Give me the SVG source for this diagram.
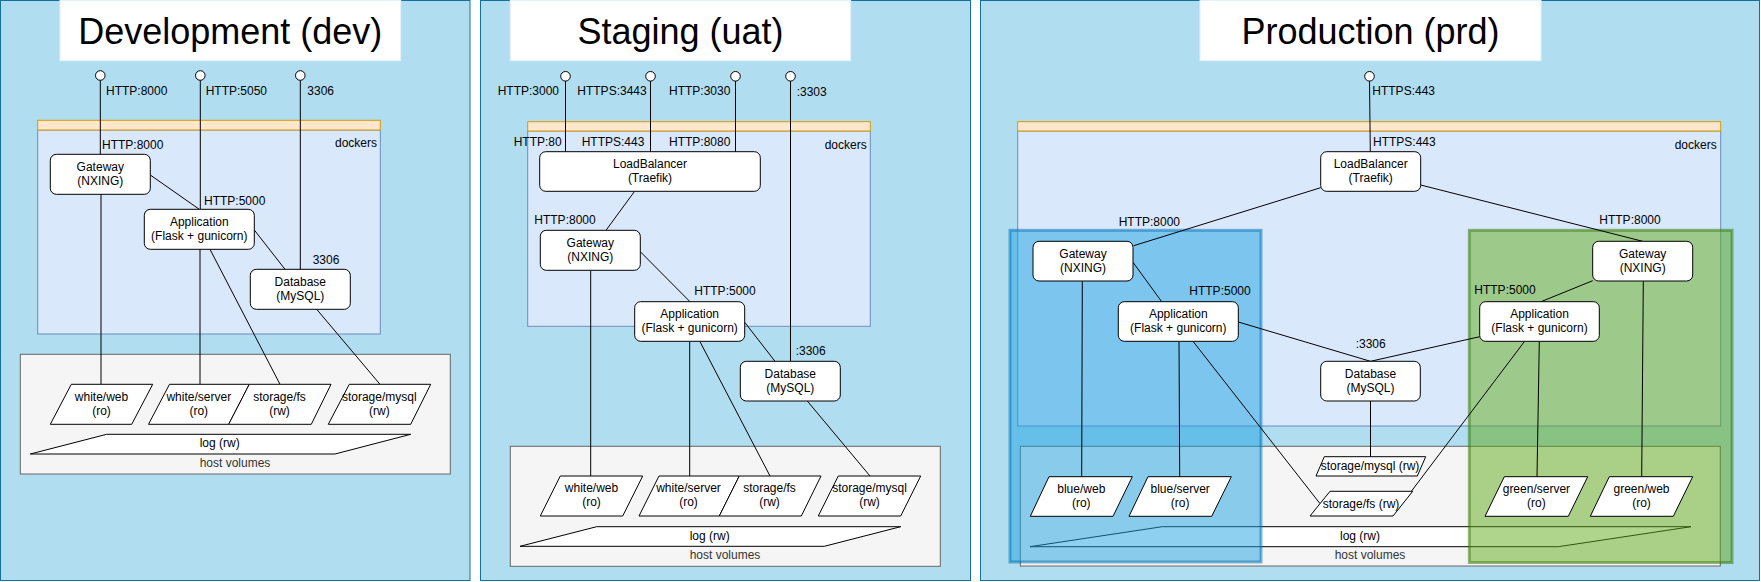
<svg xmlns="http://www.w3.org/2000/svg" width="1761" height="582" viewBox="0 0 1761 582">
<style>
text{font-family:"Liberation Sans",Arial,Helvetica,sans-serif;font-size:12px;fill:#000}
.panel{fill:#b1ddf0;stroke:#10739e;stroke-width:1}
.title{fill:#ffffff;stroke:#e3f1f8;stroke-width:1}
.ttl{font-size:36px;text-anchor:middle}
.dhead{fill:#ffe6cc;stroke:#d79b00;stroke-width:1}
.dbody{fill:#dae8fc;stroke:#6c8ebf;stroke-width:1}
.host{fill:#f5f5f5;stroke:#666666;stroke-width:1}
.hostt{fill:#333333;text-anchor:middle}
.node{fill:#ffffff;stroke:#000000;stroke-width:1}
.c{text-anchor:middle}
.r{text-anchor:end}
.pin{fill:#ffffff;stroke:#000000;stroke-width:1}
.blue{fill:#1ba1e2;fill-opacity:0.5;stroke:#006eaf;stroke-opacity:0.5;stroke-width:3}
.green{fill:#60a917;fill-opacity:0.5;stroke:#2d7600;stroke-opacity:0.5;stroke-width:3}
#connectors line{stroke:#000000;stroke-width:1;fill:none}
</style>

<!-- ===================== DEVELOPMENT ===================== -->
<g id="panel-dev">
<rect class="panel" x="0.5" y="0.5" width="469.5" height="580"/>
<rect class="title" x="60" y="0.5" width="340.7" height="60.2"/>
<text class="ttl" x="230.3" y="44">Development (dev)</text>
</g>
<g id="dev-dockers">
<rect class="dbody" x="37.7" y="130" width="342.6" height="204"/>
<rect class="dhead" x="37.7" y="120.3" width="342.6" height="9.7"/>
<text class="r" x="377" y="147">dockers</text>
</g>
<g id="dev-host">
<rect class="host" x="20.3" y="354.3" width="430" height="119.7"/>
<text class="hostt" x="235" y="466.7">host volumes</text>
</g>
<g id="dev-log">
<polygon class="node" points="30.3,454 106.7,434.3 410.7,434.3 335,454"/>
<text class="c" x="219.7" y="447">log (rw)</text>
</g>

<!-- ===================== STAGING ===================== -->
<g id="panel-uat">
<rect class="panel" x="480.5" y="0.5" width="490" height="580"/>
<rect class="title" x="510.3" y="0.5" width="340.4" height="60.2"/>
<text class="ttl" x="680.5" y="44">Staging (uat)</text>
</g>
<g id="uat-dockers">
<rect class="dbody" x="527.7" y="131" width="342.6" height="195.3"/>
<rect class="dhead" x="527.7" y="121.7" width="342.6" height="9.3"/>
<text class="r" x="866.7" y="148.7">dockers</text>
</g>
<g id="uat-host">
<rect class="host" x="510.3" y="446.3" width="430" height="120"/>
<text class="hostt" x="725" y="559.3">host volumes</text>
</g>
<g id="uat-log">
<polygon class="node" points="520,546.3 596.7,526.7 900.7,526.7 824.3,546.3"/>
<text class="c" x="709.7" y="540">log (rw)</text>
</g>

<!-- ===================== PRODUCTION ===================== -->
<g id="panel-prd">
<rect class="panel" x="980.5" y="0.5" width="779" height="580"/>
<rect class="title" x="1200" y="0.5" width="341" height="60.2"/>
<text class="ttl" x="1370.5" y="44">Production (prd)</text>
</g>
<g id="prd-dockers">
<rect class="dbody" x="1017.7" y="131" width="703" height="295"/>
<rect class="dhead" x="1017.7" y="121.7" width="703" height="9.3"/>
<text class="r" x="1716.7" y="148.7">dockers</text>
</g>
<g id="prd-host">
<rect class="host" x="1020.3" y="446.3" width="700" height="119.7"/>
<text class="hostt" x="1370" y="559.3">host volumes</text>
</g>
<g id="prd-log">
<polygon class="node" points="1030,546.7 1162.3,526.7 1691,526.7 1558.3,546.7"/>
<text class="c" x="1360" y="540">log (rw)</text>
</g>
<g id="prd-blue">
<rect class="blue" x="1010" y="230.3" width="251" height="331.7"/>
</g>
<g id="prd-green">
<rect class="green" x="1469.3" y="230.3" width="262.7" height="332.2"/>
</g>

<!-- ===================== CONNECTORS ===================== -->
<g id="connectors">
<!-- dev -->
<line x1="100.3" y1="80.3" x2="100.3" y2="154.3"/>
<line x1="200.3" y1="80.3" x2="200.3" y2="209.3"/>
<line x1="300.3" y1="80.3" x2="300.3" y2="269.3"/>
<line x1="150.3" y1="175" x2="199.3" y2="209.3"/>
<line x1="254.3" y1="230" x2="285" y2="269.3"/>
<line x1="101" y1="194.3" x2="101" y2="384.3"/>
<line x1="200" y1="249.3" x2="200" y2="384.3"/>
<line x1="210" y1="249.3" x2="280" y2="384.3"/>
<line x1="316.7" y1="309.3" x2="380" y2="384.3"/>
<!-- uat -->
<line x1="565.5" y1="81" x2="565.5" y2="151.7"/>
<line x1="650.5" y1="81" x2="650.5" y2="151.7"/>
<line x1="735.5" y1="81" x2="735.5" y2="151.7"/>
<line x1="790.5" y1="81" x2="790.5" y2="361.3"/>
<line x1="634.3" y1="191.7" x2="606" y2="230.3"/>
<line x1="640.3" y1="251.7" x2="690" y2="301.7"/>
<line x1="744.7" y1="322.3" x2="775" y2="361.3"/>
<line x1="590.7" y1="270.3" x2="590.7" y2="476"/>
<line x1="689.7" y1="341.7" x2="689.7" y2="476"/>
<line x1="700" y1="341.7" x2="770" y2="476"/>
<line x1="807.3" y1="401" x2="870" y2="476"/>
<!-- prd -->
<line x1="1369.5" y1="81" x2="1370.3" y2="151.7"/>
<line x1="1320.7" y1="187.7" x2="1133.7" y2="245.7"/>
<line x1="1420.7" y1="185" x2="1642.7" y2="241.3"/>
<line x1="1133" y1="262.3" x2="1161.7" y2="301.7"/>
<line x1="1592.7" y1="280.7" x2="1541" y2="301.7"/>
<line x1="1238.3" y1="322" x2="1370.5" y2="361.3"/>
<line x1="1479.7" y1="336.7" x2="1370.5" y2="361.3"/>
<line x1="1082.3" y1="281.3" x2="1081.7" y2="476.7"/>
<line x1="1179" y1="341.7" x2="1179.7" y2="476.7"/>
<line x1="1193.3" y1="341.7" x2="1320" y2="503.6"/>
<line x1="1524.3" y1="341.7" x2="1401" y2="505"/>
<line x1="1539.3" y1="341.7" x2="1537" y2="476.7"/>
<line x1="1643.3" y1="281.3" x2="1641.7" y2="476.7"/>
<line x1="1370.5" y1="401" x2="1370.5" y2="456.7"/>
</g>

<!-- ===================== EDGE LABELS & PINS ===================== -->
<g id="dev-pins">
<circle class="pin" cx="100.3" cy="75.5" r="4.8"/>
<circle class="pin" cx="200.3" cy="75.5" r="4.8"/>
<circle class="pin" cx="300.3" cy="75.5" r="4.8"/>
<text x="106" y="95">HTTP:8000</text>
<text x="205.7" y="95">HTTP:5050</text>
<text x="307.3" y="95">3306</text>
<text x="102" y="149">HTTP:8000</text>
<text x="204" y="205">HTTP:5000</text>
<text x="312.7" y="264">3306</text>
</g>
<g id="uat-pins">
<circle class="pin" cx="565.5" cy="76.3" r="4.8"/>
<circle class="pin" cx="650.5" cy="76.3" r="4.8"/>
<circle class="pin" cx="735.5" cy="76.3" r="4.8"/>
<circle class="pin" cx="790.5" cy="76.3" r="4.8"/>
<text x="497.7" y="95">HTTP:3000</text>
<text x="577.3" y="95">HTTPS:3443</text>
<text x="669" y="95">HTTP:3030</text>
<text x="796.7" y="96">:3303</text>
<text x="513.7" y="146">HTTP:80</text>
<text x="581.7" y="146">HTTPS:443</text>
<text x="669" y="146">HTTP:8080</text>
<text x="534.3" y="224">HTTP:8000</text>
<text x="694.3" y="295">HTTP:5000</text>
<text x="795.7" y="355.3">:3306</text>
</g>
<g id="prd-pins">
<circle class="pin" cx="1369.5" cy="76.3" r="4.8"/>
<text x="1372.3" y="95">HTTPS:443</text>
<text x="1373" y="146">HTTPS:443</text>
<text x="1118.7" y="225.7">HTTP:8000</text>
<text x="1599.3" y="224.3">HTTP:8000</text>
<text x="1189.3" y="295">HTTP:5000</text>
<text x="1474.3" y="294.3">HTTP:5000</text>
<text x="1355.7" y="348.3">:3306</text>
</g>

<!-- ===================== NODES: DEV ===================== -->
<g id="dev-gateway">
<rect class="node" x="50.3" y="154.3" width="100" height="40" rx="6"/>
<text class="c" x="100.3" y="170.6">Gateway</text>
<text class="c" x="100.3" y="184.6">(NXING)</text>
</g>
<g id="dev-app">
<rect class="node" x="144.3" y="209.3" width="110" height="40" rx="6"/>
<text class="c" x="199.3" y="225.6">Application</text>
<text class="c" x="199.3" y="239.6">(Flask + gunicorn)</text>
</g>
<g id="dev-db">
<rect class="node" x="250.3" y="269.3" width="100" height="40" rx="6"/>
<text class="c" x="300.3" y="285.6">Database</text>
<text class="c" x="300.3" y="299.6">(MySQL)</text>
</g>
<g id="dev-white-web">
<polygon class="node" points="50.3,424.3 71.3,384.3 152.7,384.3 131.7,424.3"/>
<text class="c" x="101.5" y="400.6">white/web</text>
<text class="c" x="101.5" y="414.6">(ro)</text>
</g>
<g id="dev-white-server">
<polygon class="node" points="148.5,424.3 169.5,384.3 249.3,384.3 228.7,424.3"/>
<text class="c" x="198.8" y="400.6">white/server</text>
<text class="c" x="198.8" y="414.6">(ro)</text>
</g>
<g id="dev-storage-fs">
<polygon class="node" points="228.7,424.3 249.3,384.3 331,384.3 311.3,424.3"/>
<text class="c" x="279.5" y="400.6">storage/fs</text>
<text class="c" x="279.5" y="414.6">(rw)</text>
</g>
<g id="dev-storage-mysql">
<polygon class="node" points="328.3,424.3 349.3,384.3 430.7,384.3 410.7,424.3"/>
<text class="c" x="379.3" y="400.6">storage/mysql</text>
<text class="c" x="379.3" y="414.6">(rw)</text>
</g>

<!-- ===================== NODES: UAT ===================== -->
<g id="uat-lb">
<rect class="node" x="539.7" y="151.7" width="220.6" height="39.6" rx="6"/>
<text class="c" x="650" y="168">LoadBalancer</text>
<text class="c" x="650" y="182">(Traefik)</text>
</g>
<g id="uat-gateway">
<rect class="node" x="540.3" y="230.3" width="100" height="40" rx="6"/>
<text class="c" x="590.3" y="246.6">Gateway</text>
<text class="c" x="590.3" y="260.6">(NXING)</text>
</g>
<g id="uat-app">
<rect class="node" x="634.7" y="301.7" width="110" height="39.6" rx="6"/>
<text class="c" x="689.7" y="318">Application</text>
<text class="c" x="689.7" y="332">(Flask + gunicorn)</text>
</g>
<g id="uat-db">
<rect class="node" x="740.3" y="361.3" width="100" height="39.7" rx="6"/>
<text class="c" x="790.3" y="377.6">Database</text>
<text class="c" x="790.3" y="391.6">(MySQL)</text>
</g>
<g id="uat-white-web">
<polygon class="node" points="540.3,516 560.3,476 642.7,476 622.7,516"/>
<text class="c" x="591.5" y="492.3">white/web</text>
<text class="c" x="591.5" y="506.3">(ro)</text>
</g>
<g id="uat-white-server">
<polygon class="node" points="639,516 659,476 739.3,476 719.3,516"/>
<text class="c" x="688.5" y="492.3">white/server</text>
<text class="c" x="688.5" y="506.3">(ro)</text>
</g>
<g id="uat-storage-fs">
<polygon class="node" points="719.3,516 739.3,476 821,476 801.3,516"/>
<text class="c" x="769.5" y="492.3">storage/fs</text>
<text class="c" x="769.5" y="506.3">(rw)</text>
</g>
<g id="uat-storage-mysql">
<polygon class="node" points="818.3,516 838.3,476 920.7,476 900.7,516"/>
<text class="c" x="869.5" y="492.3">storage/mysql</text>
<text class="c" x="869.5" y="506.3">(rw)</text>
</g>

<!-- ===================== NODES: PRD ===================== -->
<g id="prd-lb">
<rect class="node" x="1320.7" y="151.7" width="100" height="39.6" rx="6"/>
<text class="c" x="1370.7" y="168">LoadBalancer</text>
<text class="c" x="1370.7" y="182">(Traefik)</text>
</g>
<g id="prd-gateway-blue">
<rect class="node" x="1033" y="241.3" width="100" height="39.7" rx="6"/>
<text class="c" x="1083" y="257.6">Gateway</text>
<text class="c" x="1083" y="271.6">(NXING)</text>
</g>
<g id="prd-gateway-green">
<rect class="node" x="1592.7" y="241.3" width="100" height="39.7" rx="6"/>
<text class="c" x="1642.7" y="257.6">Gateway</text>
<text class="c" x="1642.7" y="271.6">(NXING)</text>
</g>
<g id="prd-app-blue">
<rect class="node" x="1118.3" y="301.7" width="120" height="39.6" rx="6"/>
<text class="c" x="1178.3" y="318">Application</text>
<text class="c" x="1178.3" y="332">(Flask + gunicorn)</text>
</g>
<g id="prd-app-green">
<rect class="node" x="1479.7" y="301.7" width="119.6" height="39.6" rx="6"/>
<text class="c" x="1539.5" y="318">Application</text>
<text class="c" x="1539.5" y="332">(Flask + gunicorn)</text>
</g>
<g id="prd-db">
<rect class="node" x="1320.7" y="361.3" width="99.6" height="39.7" rx="6"/>
<text class="c" x="1370.5" y="377.6">Database</text>
<text class="c" x="1370.5" y="391.6">(MySQL)</text>
</g>
<g id="prd-storage-mysql">
<polygon class="node" points="1316,476 1324.3,456.7 1425.7,456.7 1417.3,476"/>
<text class="c" x="1370" y="470">storage/mysql (rw)</text>
</g>
<g id="prd-storage-fs">
<polygon class="node" points="1310,516 1330,491.3 1412.7,491.3 1393,516"/>
<text class="c" x="1361" y="507.8">storage/fs (rw)</text>
</g>
<g id="prd-blue-web">
<polygon class="node" points="1030.3,516.3 1049,476.7 1132.3,476.7 1113,516.3"/>
<text class="c" x="1081.3" y="493">blue/web</text>
<text class="c" x="1081.3" y="507">(ro)</text>
</g>
<g id="prd-blue-server">
<polygon class="node" points="1129,516.3 1148,476.7 1231.3,476.7 1211.7,516.3"/>
<text class="c" x="1180.2" y="493">blue/server</text>
<text class="c" x="1180.2" y="507">(ro)</text>
</g>
<g id="prd-green-server">
<polygon class="node" points="1485,516.3 1504.3,476.7 1587.7,476.7 1568.3,516.3"/>
<text class="c" x="1536.4" y="493">green/server</text>
<text class="c" x="1536.4" y="507">(ro)</text>
</g>
<g id="prd-green-web">
<polygon class="node" points="1590.3,516.3 1609.3,476.7 1692.7,476.7 1673.3,516.3"/>
<text class="c" x="1641.5" y="493">green/web</text>
<text class="c" x="1641.5" y="507">(ro)</text>
</g>
</svg>
